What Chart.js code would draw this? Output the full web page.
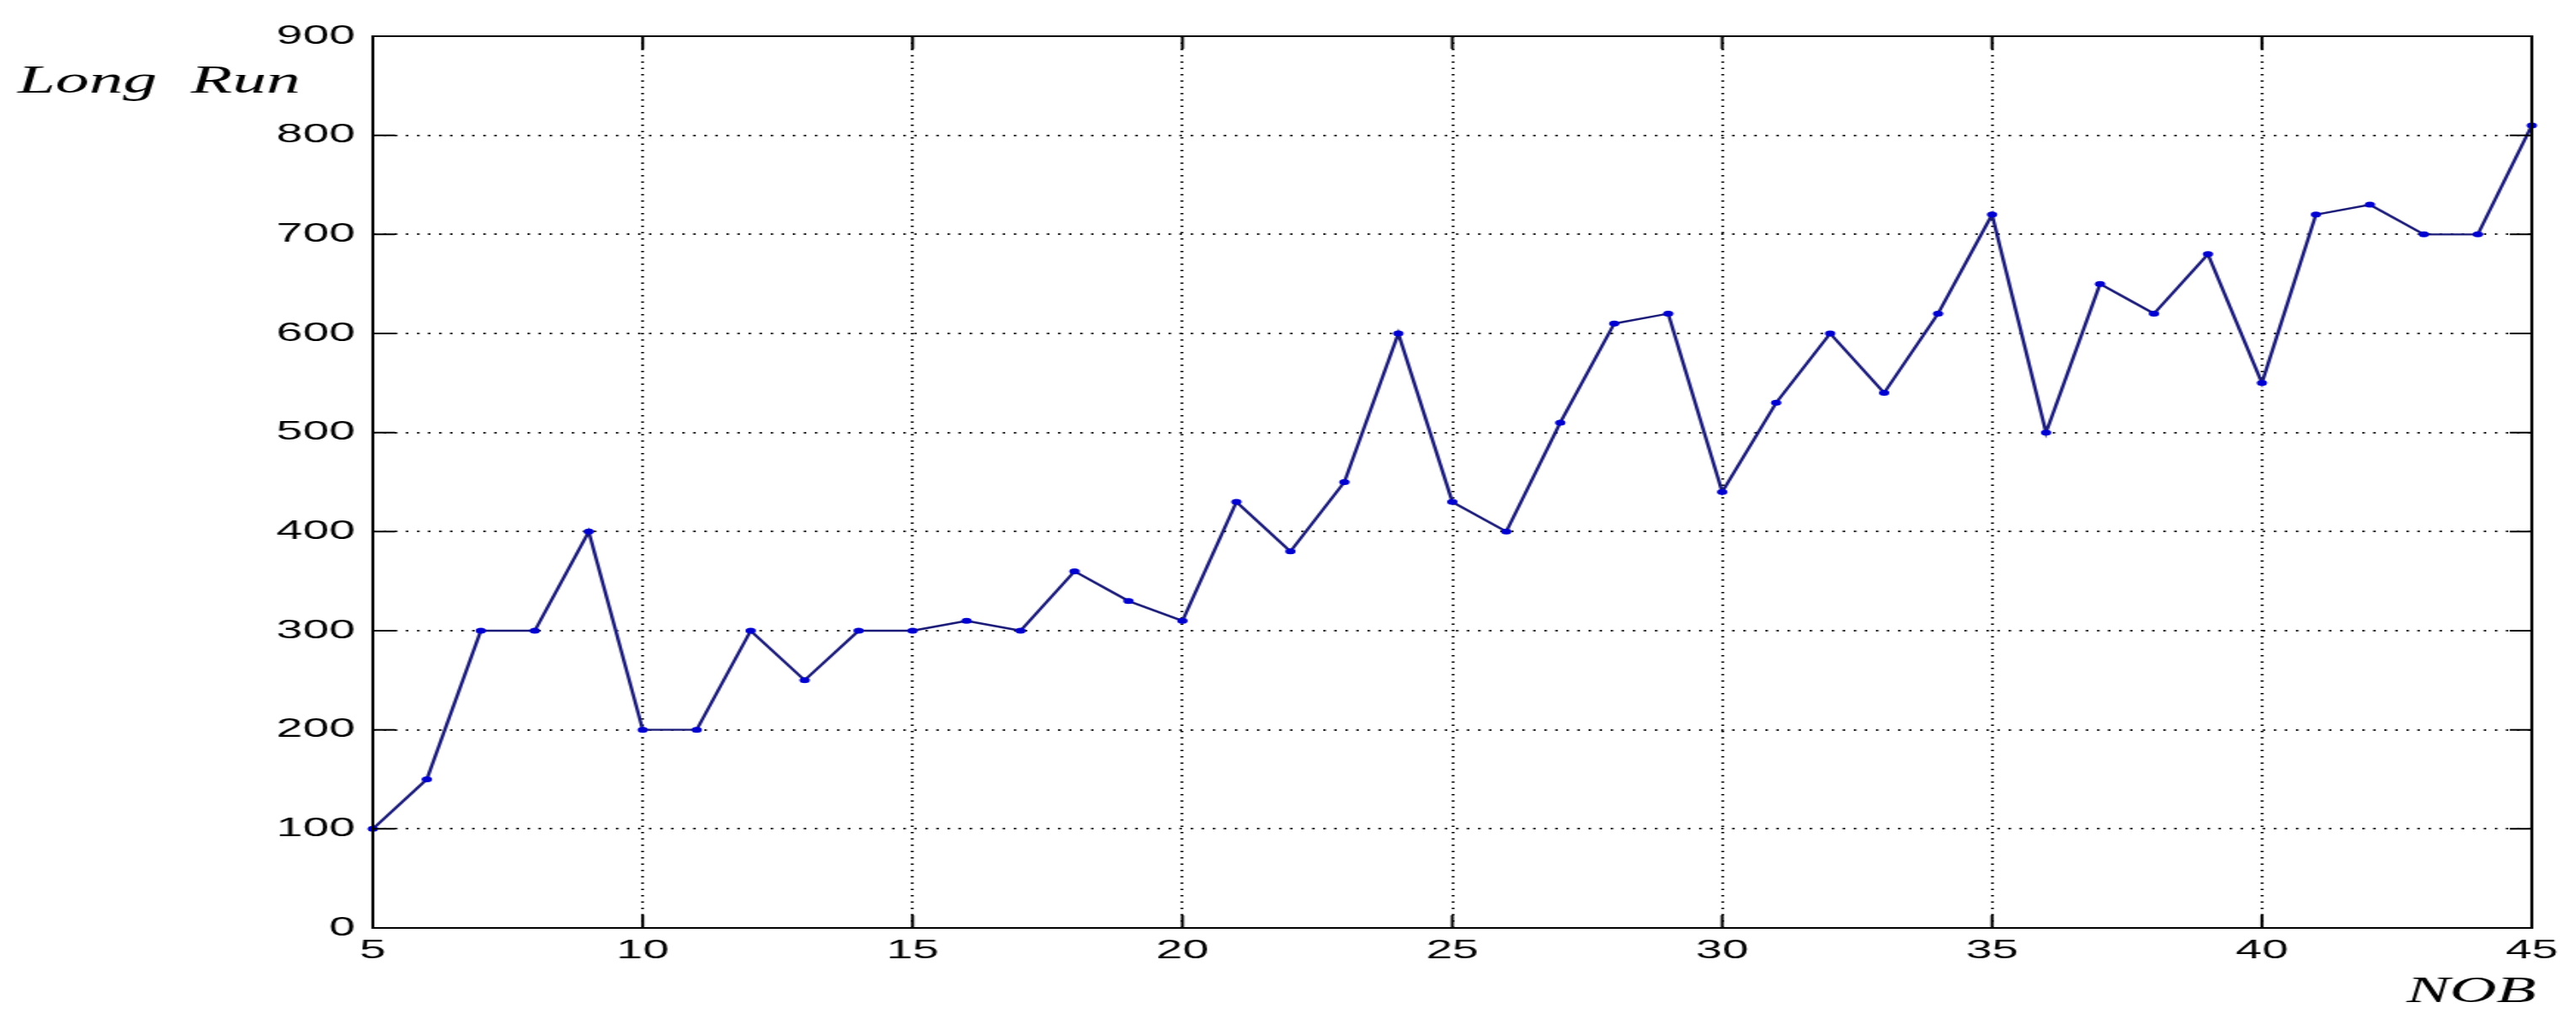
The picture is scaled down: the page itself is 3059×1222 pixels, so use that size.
<!DOCTYPE html>
<html lang="en">
<head>
    <meta charset="UTF-8">
    <title>Long Run vs NOB</title>
    <script src="https://cdn.jsdelivr.net/npm/chart.js"></script>
</head>
<body>
    <style>
        body { margin: 0; background: #fff; overflow: hidden; }
        /* the original figure is stretched sideways, so draw narrow and widen */
        .wrap {
            width: 1748px;
            height: 1222px;
            transform: scaleX(1.75);
            transform-origin: 0 0;
        }
    </style>
    <div class="wrap">
        <canvas id="runChart"></canvas>
    </div>

    <script>
        const nob = [5, 6, 7, 8, 9, 10, 11, 12, 13, 14, 15, 16, 17, 18, 19, 20, 21, 22, 23, 24, 25,
                     26, 27, 28, 29, 30, 31, 32, 33, 34, 35, 36, 37, 38, 39, 40, 41, 42, 43, 44, 45];
        const longRun = [100, 150, 300, 300, 400, 200, 200, 300, 250, 300, 300, 310, 300, 360, 330, 310, 430,
                         380, 450, 600, 430, 400, 510, 610, 620, 440, 530, 600, 540, 620, 720, 500, 650, 620,
                         680, 550, 720, 730, 700, 700, 810];
        const xTicks = [5, 10, 15, 20, 25, 30, 35, 40, 45];
        const yTicks = [0, 100, 200, 300, 400, 500, 600, 700, 800, 900];

        const points = nob.map((n, i) => ({ x: n, y: longRun[i] }));

        // box round the plot, inward ticks on all sides, and the two italic labels
        const matlabAxes = {
            id: 'matlabAxes',
            afterDraw(chart) {
                const ctx = chart.ctx;
                const a = chart.chartArea;
                const xs = chart.scales.x, ys = chart.scales.y;
                const len = 15;
                ctx.save();
                ctx.strokeStyle = '#000';
                ctx.lineWidth = 2;
                ctx.setLineDash([]);
                ctx.beginPath();
                xTicks.forEach(v => {
                    const px = xs.getPixelForValue(v);
                    ctx.moveTo(px, a.bottom); ctx.lineTo(px, a.bottom - len);
                    ctx.moveTo(px, a.top); ctx.lineTo(px, a.top + len);
                });
                yTicks.forEach(v => {
                    const py = ys.getPixelForValue(v);
                    ctx.moveTo(a.left, py); ctx.lineTo(a.left + len, py);
                    ctx.moveTo(a.right, py); ctx.lineTo(a.right - len, py);
                });
                ctx.stroke();
                ctx.strokeRect(a.left, a.top, a.right - a.left, a.bottom - a.top);

                ctx.fillStyle = '#000';
                ctx.font = 'italic 46px "Liberation Serif", "DejaVu Serif", serif';
                ctx.textAlign = 'left';
                ctx.textBaseline = 'alphabetic';
                ctx.fillText('Long  Run', 12, 110);
                ctx.font = 'italic 44px "Liberation Serif", "DejaVu Serif", serif';
                ctx.fillText('NOB', 1633, 1190);
                ctx.restore();
            }
        };

        const tickFont = { family: '"Liberation Sans", Arial, sans-serif', size: 32 };

        const ctx = document.getElementById('runChart').getContext('2d');
        new Chart(ctx, {
            type: 'line',
            data: {
                datasets: [{
                    label: 'Long Run',
                    data: points,
                    borderColor: '#1a1a78',
                    borderWidth: 2.4,
                    backgroundColor: '#0000cc',
                    pointRadius: 3.5,
                    pointBorderWidth: 0,
                    pointBackgroundColor: '#0000d0',
                    tension: 0,
                    clip: false
                }]
            },
            options: {
                responsive: true,
                maintainAspectRatio: false,
                animation: false,
                layout: { padding: { top: 43, right: 30, left: 0, bottom: 0 } },
                plugins: {
                    legend: { display: false },
                    tooltip: { enabled: false }
                },
                scales: {
                    x: {
                        type: 'linear',
                        min: 5,
                        max: 45,
                        afterBuildTicks: s => { s.ticks = xTicks.map(v => ({ value: v })); },
                        afterFit: s => { s.height = 120; },
                        ticks: { color: '#000', font: tickFont, padding: 8, maxRotation: 0 },
                        grid: { color: '#000', lineWidth: 2, drawTicks: false },
                        border: { display: false, dash: [1.5, 6] }
                    },
                    y: {
                        min: 0,
                        max: 900,
                        afterBuildTicks: s => { s.ticks = yTicks.map(v => ({ value: v })); },
                        afterFit: s => { s.width = 253; },
                        ticks: { color: '#000', font: tickFont, padding: 12 },
                        grid: { color: '#000', lineWidth: 2, drawTicks: false },
                        border: { display: false, dash: [1.5, 6] }
                    }
                }
            },
            plugins: [matlabAxes]
        });
    </script>
</body>
</html>
